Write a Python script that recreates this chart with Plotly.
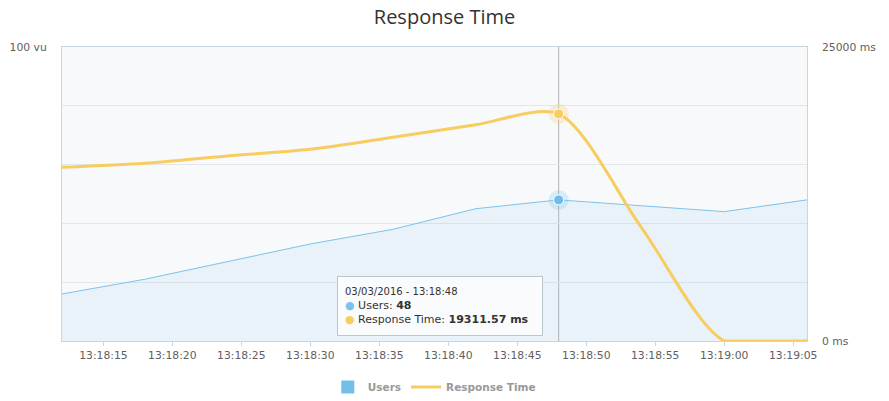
import plotly.graph_objects as go

# ---------------- data ----------------
date_iso = "2016-03-03"
date_label = "03/03/2016"
time_labels = ["13:18:12", "13:18:18", "13:18:24", "13:18:30", "13:18:36",
               "13:18:42", "13:18:48", "13:18:54", "13:19:00", "13:19:06"]
users = [16, 21, 27, 33, 38, 45, 48, 46, 44, 48]
response_ms = [14770, 15110, 15740, 16300, 17330, 18390, 19311.57, 9650, 0, 0]
hover_index = 6
flat_from = 8          # response time stays at 0 from this sample on

times = [f"{date_iso} {t}" for t in time_labels]

users_max = 100
resp_max = 25000
users_ticks = [0, 20, 40, 60, 80, 100]
users_ticktext = ["", "", "", "", "", "100 vu"]
resp_ticks = [0, 25000]
resp_ticktext = ["0 ms", "25000 ms"]

# ---------------- styles / layout ----------------
BLUE = "#7cc3ec"
ORANGE = "#f7cd60"
BORDER = "#c8d6e0"
GRID = "#e2e7eb"
FONT = "DejaVu Sans"
W, H = 889, 401
PL, PR, PT, PB = 62, 807, 47, 341       # plot frame (px)

fig = go.Figure()

# Users area
fig.add_trace(go.Scatter(
    x=times, y=users, mode="lines", name="Users", showlegend=False,
    line=dict(color=BLUE, width=1), fill="tozeroy",
    fillcolor="rgba(118,188,235,0.11)", yaxis="y", hoverinfo="skip"))

# Response time (smooth curve, clipped at the plot frame like the original)
fig.add_trace(go.Scatter(
    x=times, y=response_ms, mode="lines", name="Response Time",
    line=dict(color=ORANGE, width=3, shape="spline", smoothing=0.8),
    yaxis="y2", showlegend=False, hoverinfo="skip"))
fig.add_trace(go.Scatter(
    x=times[flat_from:], y=response_ms[flat_from:], mode="lines", name="Response Time",
    line=dict(color=ORANGE, width=3), yaxis="y2", showlegend=False, hoverinfo="skip"))

# hover-state markers
hx = [times[hover_index]]
fig.add_trace(go.Scatter(x=hx, y=[users[hover_index]], mode="markers", yaxis="y",
                         marker=dict(size=20, color="rgba(124,195,236,0.25)"),
                         showlegend=False, hoverinfo="skip"))
fig.add_trace(go.Scatter(x=hx, y=[users[hover_index]], mode="markers", yaxis="y",
                         marker=dict(size=10, color="#6dbce9", line=dict(color="white", width=1)),
                         showlegend=False, hoverinfo="skip"))
fig.add_trace(go.Scatter(x=hx, y=[response_ms[hover_index]], mode="markers", yaxis="y2",
                         marker=dict(size=20, color="rgba(247,205,96,0.25)"),
                         showlegend=False, hoverinfo="skip"))
fig.add_trace(go.Scatter(x=hx, y=[response_ms[hover_index]], mode="markers", yaxis="y2",
                         marker=dict(size=10, color=ORANGE, line=dict(color="white", width=1)),
                         showlegend=False, hoverinfo="skip"))

# legend entries
fig.add_trace(go.Scatter(x=[None], y=[None], mode="markers", name="Users",
                         marker=dict(symbol="square", size=13, color="#74bfea")))
fig.add_trace(go.Scatter(x=[None], y=[None], mode="lines", name="Response Time",
                         line=dict(color=ORANGE, width=3), yaxis="y2"))

# crosshair
fig.add_shape(type="line", xref="x", yref="paper", x0=hx[0], x1=hx[0], y0=0, y1=1,
              line=dict(color="#b4b4b4", width=1), layer="between")

# tooltip
tip = (f"<span style='font-size:10px'>{date_label} - {time_labels[hover_index]}</span><br>"
       f"<span style='color:{BLUE}'>●</span> Users: <b>{users[hover_index]}</b><br>"
       f"<span style='color:{ORANGE}'>●</span> Response Time: <b>{response_ms[hover_index]:.2f} ms</b>")
fig.add_annotation(text=tip, xref="paper", yref="paper",
                   x=(337 - PL) / (PR - PL), y=(PB - 276) / (PB - PT),
                   xanchor="left", yanchor="top", showarrow=False, align="left",
                   width=190, height=44, borderpad=7,
                   bgcolor="rgba(250,251,252,0.96)", bordercolor="#b9c6ce", borderwidth=1,
                   font=dict(family=FONT, size=11, color="#333333"))

fig.update_layout(
    width=W, height=H, autosize=False,
    margin=dict(l=PL, r=W - PR, t=PT, b=H - PB),
    paper_bgcolor="white", plot_bgcolor="#f8f9fb",
    title=dict(text="Response Time", x=0.5, xref="container", xanchor="center",
               y=1 - 17 / H, yref="container", yanchor="middle",
               font=dict(family="Open Sans", size=20, color="#333333")),
    xaxis=dict(type="date", range=[times[0], times[-1]], tickformat="%H:%M:%S",
               dtick=5000, tick0=f"{date_iso} 13:18:15", showgrid=False,
               showline=True, linecolor=BORDER, linewidth=1, mirror=True,
               ticks="outside", ticklen=4, tickcolor=BORDER, automargin=False,
               tickfont=dict(family=FONT, size=10.8, color="#606060"), zeroline=False),
    yaxis=dict(range=[0, users_max], tickvals=users_ticks, ticktext=users_ticktext,
               showgrid=True, gridcolor=GRID, zeroline=False, showline=True,
               linecolor=BORDER, mirror=True, ticks="", ticklabelstandoff=12,
               automargin=False, tickfont=dict(family=FONT, size=10.8, color="#606060")),
    yaxis2=dict(range=[0, resp_max], tickvals=resp_ticks, ticktext=resp_ticktext,
                overlaying="y", side="right", showgrid=False, zeroline=False,
                showline=False, ticks="", ticklabelstandoff=14, automargin=False,
                tickfont=dict(family=FONT, size=10.8, color="#606060")),
    legend=dict(orientation="h", x=0.4885, xref="container", xanchor="center",
                y=1 - 387 / H, yref="container", yanchor="middle",
                font=dict(family=FONT, size=10.5, color="#999999", weight="bold"),
                bgcolor="rgba(0,0,0,0)"),
    hovermode=False,
)

fig.write_html("out.html", config={"displayModeBar": False},
               post_script="document.body.style.margin='0';document.body.style.overflow='hidden';")
